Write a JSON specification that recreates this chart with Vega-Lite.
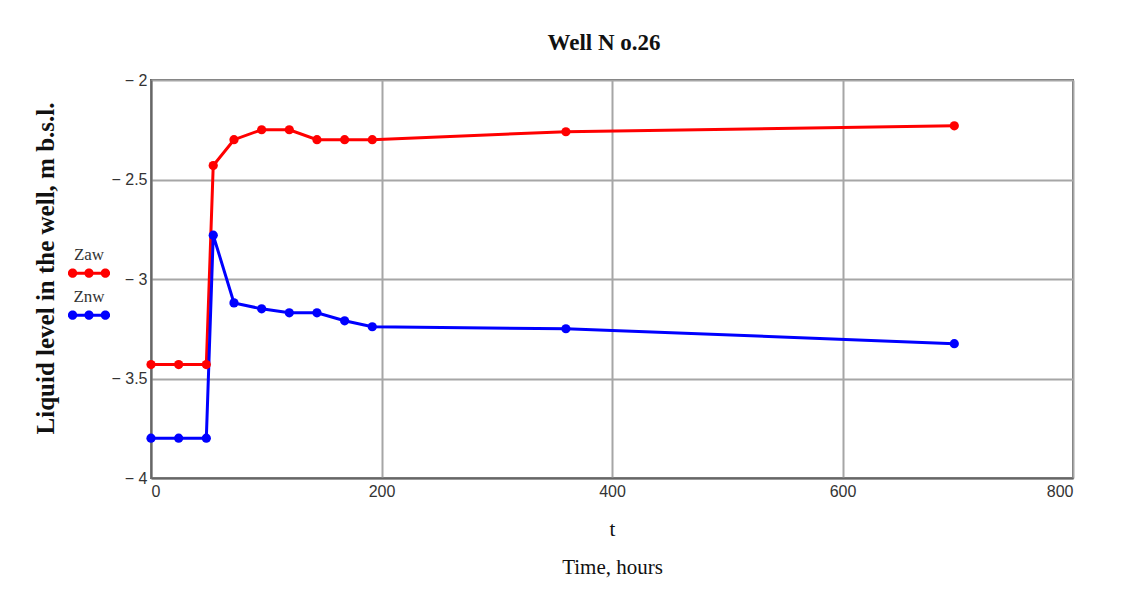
{
  "$schema": "https://vega.github.io/schema/vega-lite/v6.json",
  "width": 922,
  "height": 398,
  "autosize": {"type": "none"},
  "padding": {"left": 151, "top": 80, "right": 49, "bottom": 116},
  "background": "white",
  "title": {
    "text": "Well N o.26",
    "font": "Liberation Serif",
    "fontSize": 23,
    "fontWeight": "bold",
    "color": "#111",
    "anchor": "middle",
    "dx": -8,
    "offset": 17
  },
  "config": {
    "view": {"stroke": "#666", "strokeWidth": 2},
    "axis": {
      "labelFont": "Liberation Sans",
      "labelFontSize": 16,
      "labelColor": "#333",
      "grid": true,
      "gridColor": "#a6a6a6",
      "gridWidth": 2,
      "domainColor": "#666",
      "domainWidth": 2,
      "ticks": false,
      "titleFont": "Liberation Serif",
      "titleColor": "#111"
    }
  },
  "data": {
    "values": [
      {"t": 0, "z": -3.43, "series": "Zaw"},
      {"t": 24, "z": -3.43, "series": "Zaw"},
      {"t": 48, "z": -3.43, "series": "Zaw"},
      {"t": 54, "z": -2.43, "series": "Zaw"},
      {"t": 72, "z": -2.30, "series": "Zaw"},
      {"t": 96, "z": -2.25, "series": "Zaw"},
      {"t": 120, "z": -2.25, "series": "Zaw"},
      {"t": 144, "z": -2.30, "series": "Zaw"},
      {"t": 168, "z": -2.30, "series": "Zaw"},
      {"t": 192, "z": -2.30, "series": "Zaw"},
      {"t": 360, "z": -2.26, "series": "Zaw"},
      {"t": 697, "z": -2.23, "series": "Zaw"},
      {"t": 0, "z": -3.80, "series": "Znw"},
      {"t": 24, "z": -3.80, "series": "Znw"},
      {"t": 48, "z": -3.80, "series": "Znw"},
      {"t": 54, "z": -2.78, "series": "Znw"},
      {"t": 72, "z": -3.12, "series": "Znw"},
      {"t": 96, "z": -3.15, "series": "Znw"},
      {"t": 120, "z": -3.17, "series": "Znw"},
      {"t": 144, "z": -3.17, "series": "Znw"},
      {"t": 168, "z": -3.21, "series": "Znw"},
      {"t": 192, "z": -3.24, "series": "Znw"},
      {"t": 360, "z": -3.25, "series": "Znw"},
      {"t": 697, "z": -3.325, "series": "Znw"}
    ]
  },
  "encoding": {
    "x": {
      "field": "t",
      "type": "quantitative",
      "scale": {"domain": [0, 800], "nice": false, "zero": false},
      "axis": {
        "values": [0, 200, 400, 600, 800],
        "labelPadding": 5,
        "title": ["t", "Time, hours"],
        "titleFontSize": 21,
        "titleFontWeight": "normal",
        "titleLineHeight": 38,
        "titlePadding": 19
      }
    },
    "y": {
      "field": "z",
      "type": "quantitative",
      "scale": {"domain": [-4, -2], "nice": false, "zero": false},
      "axis": {
        "values": [-4, -3.5, -3, -2.5, -2],
        "labelExpr": "'\u2212 ' + abs(datum.value)",
        "labelPadding": 4,
        "title": "Liquid level in the well, m b.s.l.",
        "titleFontSize": 25,
        "titleFontWeight": "bold",
        "titleAngle": -90,
        "titleAlign": "center",
        "titleBaseline": "middle",
        "titleX": -106,
        "titleY": 188
      }
    }
  },
  "layer": [
    {
      "mark": {"type": "line", "strokeWidth": 3},
      "encoding": {
        "color": {
          "field": "series",
          "type": "nominal",
          "scale": {"domain": ["Zaw", "Znw"], "range": ["#ff0000", "#0000ff"]},
          "legend": null
        }
      }
    },
    {
      "mark": {"type": "point", "filled": true, "opacity": 1, "size": 85},
      "encoding": {
        "color": {
          "field": "series",
          "type": "nominal",
          "scale": {"domain": ["Zaw", "Znw"], "range": ["#ff0000", "#0000ff"]},
          "legend": {
            "title": null,
            "orient": "none",
            "legendX": -83,
            "legendY": 163,
            "padding": 0,
            "rowPadding": 7,
            "symbolType": "M-1,0.37 L1,0.37 L1,0.51 L-1,0.51 Z M-0.56,0.44 A0.22,0.22 0 1,1 -1.0,0.44 A0.22,0.22 0 1,1 -0.56,0.44 Z M0.22,0.44 A0.22,0.22 0 1,1 -0.22,0.44 A0.22,0.22 0 1,1 0.22,0.44 Z M1.0,0.44 A0.22,0.22 0 1,1 0.56,0.44 A0.22,0.22 0 1,1 1.0,0.44 Z",
            "symbolSize": 1764,
            "symbolStrokeWidth": 0,
            "symbolOpacity": 1,
            "labelFont": "Liberation Serif",
            "labelFontSize": 17,
            "labelColor": "#333",
            "labelAlign": "center",
            "labelBaseline": "bottom",
            "labelOffset": -21
          }
        }
      }
    }
  ],
  "resolve": {"scale": {"color": "independent"}}
}
